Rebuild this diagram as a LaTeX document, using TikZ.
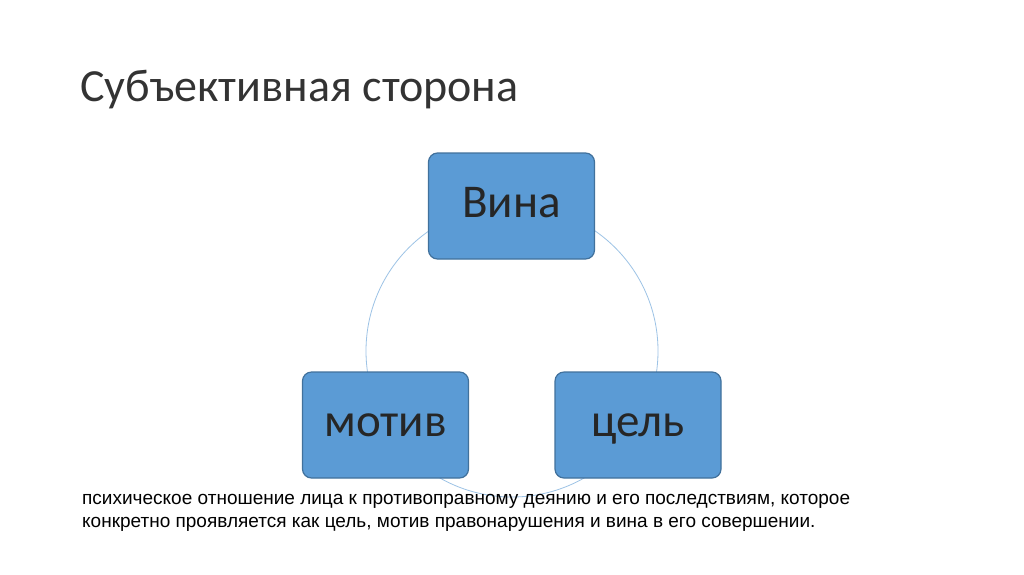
\documentclass[tikz,border=0pt]{standalone}
\usepackage{fontspec}
\setmainfont{Carlito}
\newfontfamily\arialf{Liberation Sans}
\begin{document}
\begin{tikzpicture}[x=1pt,y=-1pt,
  box/.style={draw=boxedge,line width=1.2pt,fill=boxfill,rounded corners=9pt,minimum width=166pt,minimum height=106pt,inner sep=0pt,text height=30pt,text depth=8pt,font=\fontsize{47}{54}\selectfont,text=black!85}]
\definecolor{boxfill}{HTML}{5B9BD5}
\definecolor{boxedge}{HTML}{41719C}
\definecolor{ring}{HTML}{9DC3E6}
\useasboundingbox (0,0) rectangle (1024,574);
\fill[white] (0,0) rectangle (1024,574);
\draw[ring,line width=0.8pt] (512,351) circle (146);
\node[box] (vina) at (511.5,206) {Вина};
\node[box] (motiv) at (385.5,425) {мотив};
\node[box] (cel) at (638,425) {цель};
\node[anchor=base west,inner sep=0pt,font=\fontsize{46}{54}\selectfont,text=black!80] (title) at (80,101) {Субъективная сторона};
\node[anchor=base west,inner sep=0pt,align=left,font=\arialf\fontsize{19}{23}\selectfont,text=black] (desc) at (82,527) {психическое отношение лица к противоправному деянию и его последствиям, которое\\конкретно проявляется как цель, мотив правонарушения и вина в его совершении.};
\end{tikzpicture}
\end{document}
